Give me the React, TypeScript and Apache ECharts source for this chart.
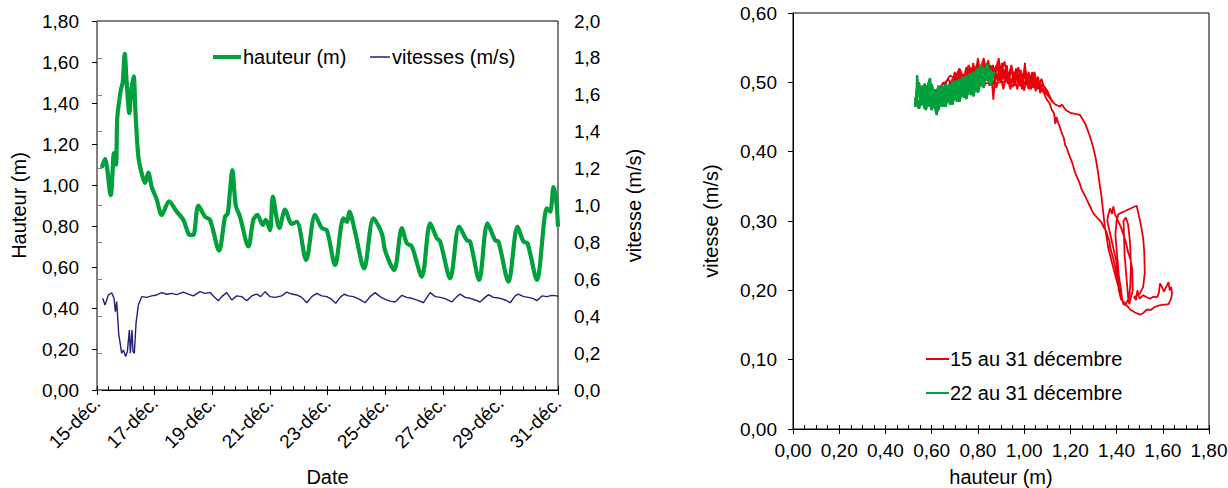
import React, { useEffect, useRef } from "react";
import * as echarts from "echarts";

// ---------- Left chart: time series (days after 15 Dec) ----------
const dateLabels = ["15-déc.", "17-déc.", "19-déc.", "21-déc.", "23-déc.", "25-déc.", "27-déc.", "29-déc.", "31-déc."];

const hauteurJours = [
  0.163, 0.278, 0.476, 0.59, 0.66, 0.705, 0.823, 0.892, 0.962, 1.031, 1.122, 1.191, 1.274, 1.33, 1.434,
  1.563, 1.667, 1.78, 1.9, 2.07, 2.247, 2.5, 2.767, 2.997, 3.229, 3.344, 3.517, 3.75, 3.924, 4.236,
  4.444, 4.538, 4.618, 4.698, 4.816, 4.965, 5.253, 5.427, 5.566, 5.753, 5.858, 6.007, 6.101, 6.33,
  6.528, 6.76, 6.934, 7.257, 7.569, 7.802, 7.976, 8.264, 8.552, 8.67, 8.76, 8.958, 9.271, 9.594,
  9.885, 10.0, 10.313, 10.58, 10.753, 10.927, 11.274, 11.563, 11.795, 11.91, 12.257, 12.569, 12.837,
  12.951, 13.264, 13.552, 13.819, 13.934, 14.281, 14.594, 14.802, 14.941, 15.267, 15.615, 15.729,
  15.844, 15.938, 16.0,
];
const hauteurValeurs = [
  1.083, 1.127, 0.95, 1.156, 1.1, 1.33, 1.46, 1.5, 1.64, 1.5, 1.35, 1.46, 1.53, 1.37, 1.14,
  1.05, 1.01, 1.06, 0.99, 0.93, 0.854, 0.92, 0.87, 0.83, 0.756, 0.756, 0.9, 0.845, 0.83, 0.68,
  0.845, 0.86, 0.976, 1.073, 0.9, 0.845, 0.7, 0.83, 0.854, 0.805, 0.83, 0.78, 0.943, 0.79,
  0.88, 0.81, 0.82, 0.634, 0.854, 0.79, 0.78, 0.61, 0.837, 0.82, 0.87, 0.77, 0.593, 0.837,
  0.764, 0.68, 0.585, 0.79, 0.716, 0.7, 0.553, 0.813, 0.74, 0.724, 0.545, 0.797, 0.73,
  0.724, 0.537, 0.813, 0.73, 0.724, 0.528, 0.797, 0.724, 0.716, 0.537, 0.886, 0.87,
  0.99, 0.927, 0.797,
];

const vitesseJours = [
  0.197, 0.278, 0.394, 0.509, 0.59, 0.637, 0.683, 0.752, 0.856, 0.914, 0.995, 1.053, 1.123, 1.157,
  1.215, 1.25, 1.296, 1.354, 1.435, 1.551, 1.725, 1.898, 2.072, 2.245, 2.419, 2.593, 2.766, 2.998,
  3.171, 3.345, 3.576, 3.75, 3.924, 4.062, 4.213, 4.329, 4.502, 4.676, 4.85, 5.023, 5.197, 5.37,
  5.544, 5.683, 5.833, 6.007, 6.181, 6.412, 6.586, 6.759, 6.933, 7.106, 7.28, 7.454, 7.627, 7.801,
  7.975, 8.148, 8.287, 8.438, 8.576, 8.727, 8.9, 9.109, 9.306, 9.479, 9.653, 9.826, 10.0, 10.174,
  10.347, 10.579, 10.752, 10.926, 11.157, 11.331, 11.563, 11.736, 11.91, 12.083, 12.315, 12.488,
  12.604, 12.778, 12.951, 13.125, 13.298, 13.472, 13.588, 13.762, 13.935, 14.167, 14.34, 14.514,
  14.63, 14.803, 14.977, 15.15, 15.266, 15.44, 15.613, 15.787, 15.961, 16.0,
];
const vitesseValeurs = [
  0.497, 0.461, 0.515, 0.527, 0.497, 0.425, 0.479, 0.307, 0.199, 0.217, 0.181, 0.208, 0.325, 0.199,
  0.325, 0.208, 0.199, 0.361, 0.461, 0.506, 0.502, 0.51, 0.515, 0.528, 0.519, 0.524, 0.517, 0.531,
  0.52, 0.51, 0.533, 0.524, 0.528, 0.506, 0.484, 0.506, 0.528, 0.488, 0.51, 0.506, 0.484, 0.51,
  0.52, 0.506, 0.533, 0.506, 0.502, 0.51, 0.531, 0.52, 0.515, 0.502, 0.473, 0.506, 0.524, 0.51,
  0.506, 0.491, 0.47, 0.502, 0.519, 0.51, 0.506, 0.491, 0.473, 0.506, 0.528, 0.506, 0.491, 0.482,
  0.477, 0.513, 0.502, 0.497, 0.484, 0.473, 0.528, 0.506, 0.502, 0.495, 0.477, 0.506,
  0.52, 0.502, 0.497, 0.488, 0.477, 0.502, 0.517, 0.502, 0.499, 0.488, 0.473, 0.51,
  0.52, 0.506, 0.502, 0.495, 0.484, 0.51, 0.506, 0.513, 0.51, 0.506,
];

// ---------- Right chart: vitesse vs hauteur ----------
// 15 -> 21 December (red only part): [hauteur, vitesse]
const rouge15au21: number[][] = [
  [1.08, 0.497], [1.1, 0.488], [1.125, 0.47], [1.11, 0.478], [1.09, 0.492], [1.06, 0.5], [1.02, 0.505],
  [0.98, 0.51], [0.95, 0.515], [0.99, 0.508], [1.04, 0.5], [1.08, 0.49], [1.11, 0.478], [1.135, 0.468],
  [1.155, 0.465], [1.163, 0.468], [1.18, 0.46], [1.2, 0.456], [1.242, 0.453], [1.265, 0.44], [1.285, 0.422],
  [1.3, 0.405], [1.31, 0.39], [1.32, 0.37], [1.326, 0.355], [1.335, 0.335], [1.343, 0.31], [1.35, 0.29],
  [1.365, 0.26], [1.38, 0.24], [1.4, 0.215], [1.42, 0.19], [1.43, 0.18], [1.445, 0.178], [1.46, 0.172],
  [1.48, 0.168], [1.5, 0.165], [1.515, 0.167], [1.53, 0.172], [1.55, 0.172], [1.565, 0.176], [1.58, 0.178],
  [1.6, 0.179], [1.625, 0.18], [1.636, 0.188], [1.64, 0.196], [1.636, 0.205], [1.63, 0.2], [1.625, 0.212],
  [1.615, 0.205], [1.605, 0.198], [1.595, 0.206], [1.588, 0.21], [1.583, 0.196], [1.575, 0.19], [1.56, 0.191],
  [1.545, 0.188], [1.53, 0.19], [1.515, 0.193], [1.5, 0.188], [1.49, 0.2], [1.485, 0.186], [1.475, 0.19],
  [1.5, 0.195], [1.515, 0.205], [1.522, 0.225], [1.52, 0.255], [1.515, 0.275], [1.505, 0.295], [1.495, 0.31],
  [1.487, 0.322], [1.46, 0.318], [1.435, 0.314], [1.408, 0.31], [1.4, 0.3], [1.395, 0.28], [1.4, 0.26],
  [1.405, 0.24], [1.41, 0.22], [1.42, 0.2], [1.425, 0.185], [1.44, 0.18], [1.455, 0.19], [1.46, 0.21],
  [1.462, 0.24], [1.458, 0.27], [1.45, 0.295], [1.44, 0.305], [1.43, 0.3], [1.432, 0.28], [1.435, 0.25],
  [1.44, 0.23], [1.445, 0.21], [1.45, 0.19], [1.455, 0.18], [1.47, 0.2], [1.468, 0.23], [1.46, 0.245],
  [1.45, 0.255], [1.44, 0.27], [1.42, 0.29], [1.4, 0.305], [1.393, 0.31], [1.386, 0.321], [1.38, 0.31],
  [1.372, 0.318], [1.364, 0.309], [1.36, 0.3], [1.4, 0.24], [1.42, 0.186], [1.41, 0.2], [1.405, 0.215],
  [1.4, 0.225], [1.39, 0.24], [1.379, 0.254], [1.372, 0.262], [1.37, 0.27], [1.355, 0.285], [1.343, 0.292],
  [1.335, 0.298], [1.33, 0.3], [1.315, 0.305], [1.3, 0.311], [1.292, 0.316], [1.29, 0.318], [1.278, 0.326],
  [1.265, 0.335], [1.258, 0.34], [1.249, 0.345], [1.24, 0.355], [1.228, 0.364], [1.22, 0.37], [1.212, 0.38],
  [1.206, 0.386], [1.195, 0.395], [1.185, 0.405], [1.177, 0.41], [1.172, 0.42], [1.165, 0.425], [1.155, 0.435],
  [1.148, 0.441], [1.14, 0.45], [1.135, 0.44], [1.13, 0.455], [1.12, 0.46], [1.11, 0.47], [1.098, 0.475],
  [1.085, 0.485],
  [1.07, 0.492], [1.06, 0.508], [1.05, 0.49], [1.04, 0.512], [1.03, 0.494], [1.02, 0.515], [1.01, 0.496],
  [1.004, 0.528], [0.995, 0.505], [0.985, 0.518], [0.975, 0.497], [0.965, 0.52], [0.955, 0.498], [0.945, 0.522],
  [0.935, 0.5], [0.925, 0.525], [0.915, 0.503], [0.905, 0.528], [0.895, 0.505], [0.885, 0.53], [0.875, 0.508],
  [0.865, 0.525], [0.855, 0.51], [0.845, 0.532], [0.835, 0.512], [0.82, 0.53], [0.81, 0.51], [0.8, 0.525],
  [0.79, 0.505], [0.78, 0.52], [0.77, 0.5], [0.76, 0.515], [0.75, 0.498], [0.74, 0.512], [0.73, 0.495],
  [0.72, 0.51], [0.7, 0.495], [0.69, 0.505], [0.68, 0.49],
  [0.69, 0.5], [0.7, 0.515], [0.71, 0.5], [0.72, 0.516], [0.735, 0.5], [0.75, 0.522], [0.765, 0.505],
  [0.78, 0.528], [0.79, 0.51], [0.8, 0.535], [0.81, 0.515], [0.825, 0.535], [0.84, 0.51], [0.855, 0.525],
  [0.867, 0.475], [0.875, 0.51], [0.89, 0.535], [0.9, 0.512], [0.915, 0.53], [0.93, 0.505], [0.945, 0.525],
  [0.96, 0.495], [0.975, 0.522], [0.99, 0.49], [1.005, 0.52], [1.02, 0.495], [1.035, 0.515], [1.05, 0.487],
  [1.06, 0.505], [1.07, 0.484], [1.08, 0.5], [1.09, 0.488],
  [1.075, 0.505], [1.06, 0.49], [1.045, 0.515], [1.03, 0.49], [1.015, 0.51], [1.0, 0.488], [0.985, 0.513],
  [0.97, 0.49], [0.955, 0.515], [0.94, 0.49], [0.925, 0.512], [0.91, 0.49], [0.895, 0.515], [0.88, 0.492],
  [0.865, 0.52], [0.85, 0.495], [0.835, 0.52], [0.82, 0.498], [0.8, 0.522], [0.78, 0.5], [0.76, 0.52],
  [0.74, 0.497], [0.72, 0.515], [0.7, 0.49], [0.68, 0.5], [0.66, 0.488], [0.64, 0.495],
  [0.66, 0.5], [0.68, 0.51], [0.7, 0.505], [0.72, 0.52], [0.74, 0.505], [0.76, 0.525], [0.78, 0.51],
  [0.8, 0.53], [0.82, 0.512], [0.84, 0.528], [0.86, 0.505], [0.88, 0.525], [0.9, 0.5], [0.92, 0.52],
  [0.94, 0.498], [0.96, 0.515], [0.98, 0.495], [1.0, 0.512], [1.02, 0.49], [1.03, 0.51], [1.04, 0.492],
  [1.05, 0.5],
  [1.03, 0.5], [1.01, 0.505], [0.99, 0.492], [0.97, 0.51], [0.95, 0.493], [0.93, 0.513], [0.91, 0.494],
  [0.89, 0.515], [0.87, 0.497], [0.85, 0.518], [0.83, 0.5], [0.81, 0.518], [0.79, 0.5], [0.77, 0.515],
  [0.75, 0.497], [0.73, 0.51], [0.71, 0.494], [0.69, 0.505], [0.67, 0.49], [0.65, 0.5], [0.63, 0.488],
  [0.65, 0.49], [0.67, 0.505], [0.69, 0.495], [0.71, 0.512], [0.73, 0.5], [0.75, 0.518], [0.77, 0.502],
  [0.79, 0.522], [0.81, 0.505], [0.83, 0.524], [0.85, 0.506], [0.87, 0.52], [0.89, 0.502], [0.91, 0.515],
  [0.93, 0.498], [0.95, 0.505], [0.9, 0.5], [0.82, 0.498], [0.74, 0.49], [0.66, 0.485],
];

// 22 -> 31 December: [hauteur, vitesse]
const vert22au31: number[][] = [
  [0.63, 0.478], [0.645, 0.495], [0.66, 0.476], [0.675, 0.497], [0.69, 0.48], [0.705, 0.503], [0.72, 0.485],
  [0.735, 0.508], [0.75, 0.49], [0.765, 0.513], [0.78, 0.495], [0.795, 0.52], [0.81, 0.5], [0.825, 0.522],
  [0.84, 0.503], [0.855, 0.518], [0.862, 0.506],
  [0.85, 0.498], [0.835, 0.515], [0.82, 0.494], [0.805, 0.516], [0.79, 0.49], [0.775, 0.51], [0.76, 0.487],
  [0.745, 0.505], [0.73, 0.482], [0.715, 0.5], [0.7, 0.478], [0.685, 0.496], [0.67, 0.474], [0.655, 0.493],
  [0.64, 0.47], [0.625, 0.49], [0.61, 0.468], [0.6, 0.485],
  [0.615, 0.475], [0.63, 0.492], [0.645, 0.472], [0.66, 0.495], [0.675, 0.478], [0.69, 0.5], [0.705, 0.482],
  [0.72, 0.505], [0.735, 0.487], [0.75, 0.51], [0.765, 0.49], [0.78, 0.515], [0.795, 0.495], [0.81, 0.525],
  [0.825, 0.5], [0.84, 0.527], [0.855, 0.505], [0.87, 0.515],
  [0.855, 0.495], [0.84, 0.518], [0.825, 0.492], [0.81, 0.515], [0.795, 0.488], [0.78, 0.508], [0.765, 0.485],
  [0.75, 0.503], [0.735, 0.48], [0.72, 0.498], [0.705, 0.476], [0.69, 0.494], [0.675, 0.472], [0.66, 0.49],
  [0.645, 0.465], [0.63, 0.488], [0.615, 0.462], [0.6, 0.483], [0.59, 0.468], [0.58, 0.48],
  [0.595, 0.49], [0.61, 0.47], [0.622, 0.453], [0.635, 0.48], [0.65, 0.468], [0.665, 0.49], [0.68, 0.47],
  [0.695, 0.495], [0.71, 0.475], [0.725, 0.498], [0.74, 0.48], [0.755, 0.505], [0.77, 0.485], [0.785, 0.51],
  [0.8, 0.49], [0.815, 0.515], [0.83, 0.495],
  [0.815, 0.505], [0.8, 0.485], [0.785, 0.505], [0.77, 0.482], [0.755, 0.5], [0.74, 0.478], [0.725, 0.495],
  [0.71, 0.472], [0.695, 0.49], [0.68, 0.468], [0.665, 0.488], [0.65, 0.465], [0.635, 0.485], [0.62, 0.462],
  [0.605, 0.488], [0.59, 0.465], [0.575, 0.49], [0.56, 0.467], [0.55, 0.485],
  [0.56, 0.495], [0.57, 0.47], [0.58, 0.492], [0.593, 0.506], [0.6, 0.475], [0.615, 0.49], [0.63, 0.466],
  [0.645, 0.488], [0.66, 0.47], [0.675, 0.492], [0.69, 0.475], [0.705, 0.498], [0.72, 0.48], [0.735, 0.502],
  [0.75, 0.485], [0.765, 0.507], [0.78, 0.49], [0.795, 0.512], [0.81, 0.495],
  [0.795, 0.5], [0.78, 0.48], [0.765, 0.498], [0.75, 0.476], [0.735, 0.494], [0.72, 0.472], [0.705, 0.49],
  [0.69, 0.468], [0.675, 0.486], [0.66, 0.465], [0.645, 0.484], [0.63, 0.46], [0.615, 0.482], [0.6, 0.46],
  [0.585, 0.48], [0.57, 0.462], [0.555, 0.482], [0.54, 0.464], [0.535, 0.48],
  [0.537, 0.51], [0.54, 0.49], [0.55, 0.475], [0.56, 0.495], [0.575, 0.472], [0.59, 0.494], [0.605, 0.47],
  [0.62, 0.49], [0.635, 0.472], [0.65, 0.492], [0.665, 0.476], [0.68, 0.496], [0.695, 0.48], [0.71, 0.5],
  [0.725, 0.485], [0.74, 0.505], [0.755, 0.49], [0.77, 0.51], [0.785, 0.495], [0.8, 0.512],
  [0.785, 0.49], [0.77, 0.505], [0.755, 0.482], [0.74, 0.5], [0.725, 0.478], [0.71, 0.495], [0.695, 0.474],
  [0.68, 0.49], [0.665, 0.47], [0.65, 0.486], [0.635, 0.466], [0.62, 0.484], [0.605, 0.463], [0.59, 0.482],
  [0.575, 0.46], [0.56, 0.48], [0.545, 0.462], [0.53, 0.478], [0.528, 0.465],
  [0.535, 0.49], [0.545, 0.5], [0.555, 0.478], [0.57, 0.498], [0.585, 0.476], [0.6, 0.497], [0.615, 0.478],
  [0.63, 0.495], [0.645, 0.48], [0.66, 0.497], [0.675, 0.482], [0.69, 0.502], [0.705, 0.486], [0.72, 0.505],
  [0.735, 0.49], [0.75, 0.51], [0.765, 0.494], [0.78, 0.515], [0.795, 0.498], [0.81, 0.52], [0.825, 0.502],
  [0.84, 0.52], [0.855, 0.506], [0.865, 0.51],
];

const FONT = "'Liberation Sans', Arial, sans-serif";
const fmt2 = (v: number) => v.toFixed(2).replace(".", ",");
const fmt1 = (v: number) => v.toFixed(1).replace(".", ",");

export default function App() {
  const ref = useRef<HTMLDivElement>(null);
  useEffect(() => {
    if (!ref.current) return;
    const chart = echarts.init(ref.current, null, { renderer: "svg" });
    const txt = { color: "#000", fontFamily: FONT };
    const black = { lineStyle: { color: "#000", width: 1 } };
    const hauteurData = hauteurJours.map((d, i) => [d, hauteurValeurs[i]]);
    const vitesseData = vitesseJours.map((d, i) => [d, vitesseValeurs[i]]);
    const option: any = {
      animation: false,
      backgroundColor: "#fff",
      textStyle: { fontFamily: FONT },
      grid: [
        {
          left: 97, top: 21, width: 461, height: 369, show: true, borderColor: "#000", borderWidth: 1,
          containLabel: false, outerBoundsMode: "none",
        },
        {
          left: 793, top: 13, width: 416, height: 416, show: true, borderColor: "#000", borderWidth: 1,
          containLabel: false, outerBoundsMode: "none",
        },
      ],
      legend: [
        {
          data: ["hauteur (m)"], left: 208, top: 42, icon: "rect", itemWidth: 28, itemHeight: 4,
          selectedMode: false, textStyle: { ...txt, fontSize: 20, padding: [0, 0, 0, -3] },
        },
        {
          data: ["vitesses (m/s)"], left: 365, top: 42, icon: "rect", itemWidth: 20, itemHeight: 1.5,
          selectedMode: false, textStyle: { ...txt, fontSize: 20, padding: [0, 0, 0, -3] },
        },
        {
          data: ["15 au 31 décembre", "22 au 31 décembre"], orient: "vertical", left: 921, top: 344,
          icon: "rect", itemWidth: 23, itemHeight: 2, itemGap: 14, selectedMode: false,
          textStyle: { ...txt, fontSize: 20, padding: [0, 0, 0, -4] },
        },
      ],
      xAxis: [
        {
          gridIndex: 0, type: "value", position: "bottom", min: 0, max: 16, interval: 2,
          name: "Date", nameLocation: "middle", nameGap: 77,
          nameTextStyle: { ...txt, fontSize: 20, lineHeight: 20 },
          axisLine: { show: true, ...black }, axisTick: { show: true, inside: true, length: 4, ...black },
          minorTick: { show: true, splitNumber: 5, length: 4, ...black },
          axisLabel: { ...txt, fontSize: 19, rotate: 45, margin: 10, formatter: (v: number) => dateLabels[Math.round(v / 2)] },
          splitLine: { show: false },
        },
        {
          gridIndex: 0, type: "value", position: "bottom", min: 0, max: 16, interval: 2,
          axisLine: { show: false }, axisTick: { show: true, inside: false, length: 5, ...black },
          axisLabel: { show: false }, splitLine: { show: false },
        },
        {
          gridIndex: 1, type: "value", position: "bottom", min: 0, max: 1.8, interval: 0.2,
          name: "hauteur (m)", nameLocation: "middle", nameGap: 38,
          nameTextStyle: { ...txt, fontSize: 20, lineHeight: 20 },
          axisLine: { show: true, ...black }, axisTick: { show: true, inside: true, length: 4, ...black },
          minorTick: { show: true, splitNumber: 4, length: 4, ...black },
          axisLabel: { ...txt, fontSize: 19, margin: 12, formatter: fmt2 },
          splitLine: { show: false },
        },
        {
          gridIndex: 1, type: "value", position: "bottom", min: 0, max: 1.8, interval: 0.2,
          axisLine: { show: false }, axisTick: { show: true, inside: false, length: 5, ...black },
          axisLabel: { show: false }, splitLine: { show: false },
        },
      ],
      yAxis: [
        {
          gridIndex: 0, type: "value", position: "left", min: 0, max: 1.8, interval: 0.2,
          name: "Hauteur (m)", nameLocation: "middle", nameGap: 68, nameRotate: 90,
          nameTextStyle: { ...txt, fontSize: 20 },
          axisLine: { show: true, ...black }, axisTick: { show: true, length: 5, ...black },
          axisLabel: { ...txt, fontSize: 19, margin: 18, formatter: fmt2 },
          splitLine: { show: false },
        },
        {
          gridIndex: 0, type: "value", position: "right", min: 0, max: 2, interval: 0.2,
          name: "vitesse (m/s)", nameLocation: "middle", nameGap: 66, nameRotate: 90,
          nameTextStyle: { ...txt, fontSize: 20 },
          axisLine: { show: true, lineStyle: { color: "#808080", width: 1 } },
          axisTick: { show: true, length: 5, lineStyle: { color: "#808080", width: 1 } },
          axisLabel: { ...txt, fontSize: 19, margin: 16, formatter: fmt1 },
          splitLine: { show: false },
        },
        {
          gridIndex: 1, type: "value", position: "left", min: 0, max: 0.6, interval: 0.1,
          name: "vitesse (m/s)", nameLocation: "middle", nameGap: 72, nameRotate: 90,
          nameTextStyle: { ...txt, fontSize: 20 },
          axisLine: { show: true, ...black }, axisTick: { show: true, length: 5, ...black },
          axisLabel: { ...txt, fontSize: 19, margin: 16, formatter: fmt2 },
          splitLine: { show: false },
        },
      ],
      series: [
        {
          name: "hauteur (m)", type: "line", xAxisIndex: 0, yAxisIndex: 0, data: hauteurData,
          smooth: 0.3, symbol: "none", color: "#00A03C", lineStyle: { color: "#00A03C", width: 4.2 }, z: 3,
        },
        {
          name: "vitesses (m/s)", type: "line", xAxisIndex: 0, yAxisIndex: 1, data: vitesseData,
          symbol: "none", color: "#23207A", lineStyle: { color: "#23207A", width: 1.4 }, z: 4,
        },
        {
          name: "15 au 31 décembre", type: "line", xAxisIndex: 2, yAxisIndex: 2,
          data: rouge15au21.concat(vert22au31), symbol: "none", color: "#E8000B",
          lineStyle: { color: "#E8000B", width: 1.8 }, z: 3,
        },
        {
          name: "22 au 31 décembre", type: "line", xAxisIndex: 2, yAxisIndex: 2, data: vert22au31,
          symbol: "none", color: "#00A03C", lineStyle: { color: "#00A03C", width: 2.4 }, z: 4,
        },
      ],
    };
    chart.setOption(option);
    return () => chart.dispose();
  }, []);
  return (
    <div
      ref={ref}
      style={{ position: "fixed", left: 0, top: 0, width: 1228, height: 488, background: "#fff" }}
    />
  );
}
